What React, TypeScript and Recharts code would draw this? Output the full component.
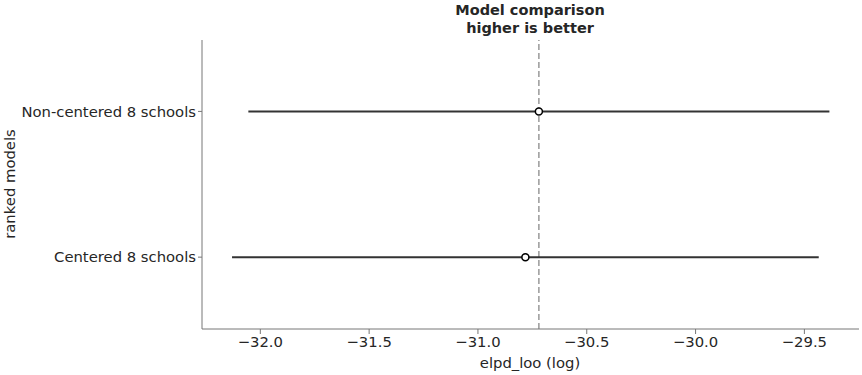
import React from "react";
import {
  ScatterChart,
  Scatter,
  XAxis,
  YAxis,
  ErrorBar,
  ReferenceLine,
} from "recharts";

const models = ["Centered 8 schools", "Non-centered 8 schools"];
const elpdLoo = [-30.782, -30.72];
const elpdSe = [1.348, 1.335];
const xTicks = [-32.0, -31.5, -31.0, -30.5, -30.0, -29.5];
const yTicks = [0, 1];

const data = models.map((m, i) => ({ name: m, y: i, elpd: elpdLoo[i], se: elpdSe[i] }));
const best = Math.max(...elpdLoo);

const FONT = "'DejaVu Sans', sans-serif";
const TEXT = "#262626";
const SPINE = "#777777";

const fmtX = (v: number) => (v < 0 ? "\u2212" : "") + Math.abs(v).toFixed(1);

export default function App() {
  return (
    <div style={{ position: "absolute", left: 0, top: 0, width: 862, height: 375, background: "#fff" }}>
      <ScatterChart
        width={862}
        height={375}
        margin={{ top: 40, right: 3, bottom: 0, left: 0 }}
        style={{ fontFamily: FONT }}
      >
        <XAxis
          type="number"
          dataKey="elpd"
          domain={[-32.268, -29.249]}
          ticks={xTicks}
          tickFormatter={fmtX}
          height={46}
          axisLine={{ stroke: SPINE, strokeWidth: 1 }}
          tickLine={{ stroke: SPINE }}
          tickSize={5}
          tick={{ fill: TEXT, fontSize: 14.8, fontFamily: FONT }}
          allowDataOverflow
        />
        <YAxis
          type="number"
          dataKey="y"
          domain={[-0.493, 1.49]}
          ticks={yTicks}
          tickFormatter={(v: number) => models[v] ?? ""}
          width={202}
          axisLine={{ stroke: SPINE, strokeWidth: 1 }}
          tickLine={{ stroke: SPINE }}
          tickSize={4}
          tick={{ fill: TEXT, fontSize: 14.8, fontFamily: FONT }}
          allowDataOverflow
        />
        <ReferenceLine
          x={best}
          stroke="#999999"
          strokeWidth={1.5}
          strokeDasharray="6 3"
        />
        <Scatter
          data={data}
          isAnimationActive={false}
          fill="#ffffff"
          stroke="#000000"
          strokeWidth={1.5}
          shape={(p: any) => (
            <circle cx={p.cx} cy={p.cy} r={3.5} fill="#fff" stroke="#000" strokeWidth={1.5} />
          )}
        >
          <ErrorBar
            dataKey="se"
            direction="x"
            width={0}
            stroke="#333333"
            strokeWidth={2}
            isAnimationActive={false}
          />
        </Scatter>
        <text
          x={530}
          y={15}
          textAnchor="middle"
          fontFamily={FONT}
          fontWeight="bold"
          fontSize={14.5}
          fill={TEXT}
        >
          Model comparison
        </text>
        <text
          x={530}
          y={33}
          textAnchor="middle"
          fontFamily={FONT}
          fontWeight="bold"
          fontSize={14.5}
          fill={TEXT}
        >
          higher is better
        </text>
        <text
          x={530}
          y={368}
          textAnchor="middle"
          fontFamily={FONT}
          fontSize={14.8}
          fill={TEXT}
        >
          elpd_loo (log)
        </text>
        <text
          x={15}
          y={184}
          textAnchor="middle"
          fontFamily={FONT}
          fontSize={14.8}
          fill={TEXT}
          transform="rotate(-90 15 184)"
        >
          ranked models
        </text>
      </ScatterChart>
    </div>
  );
}
